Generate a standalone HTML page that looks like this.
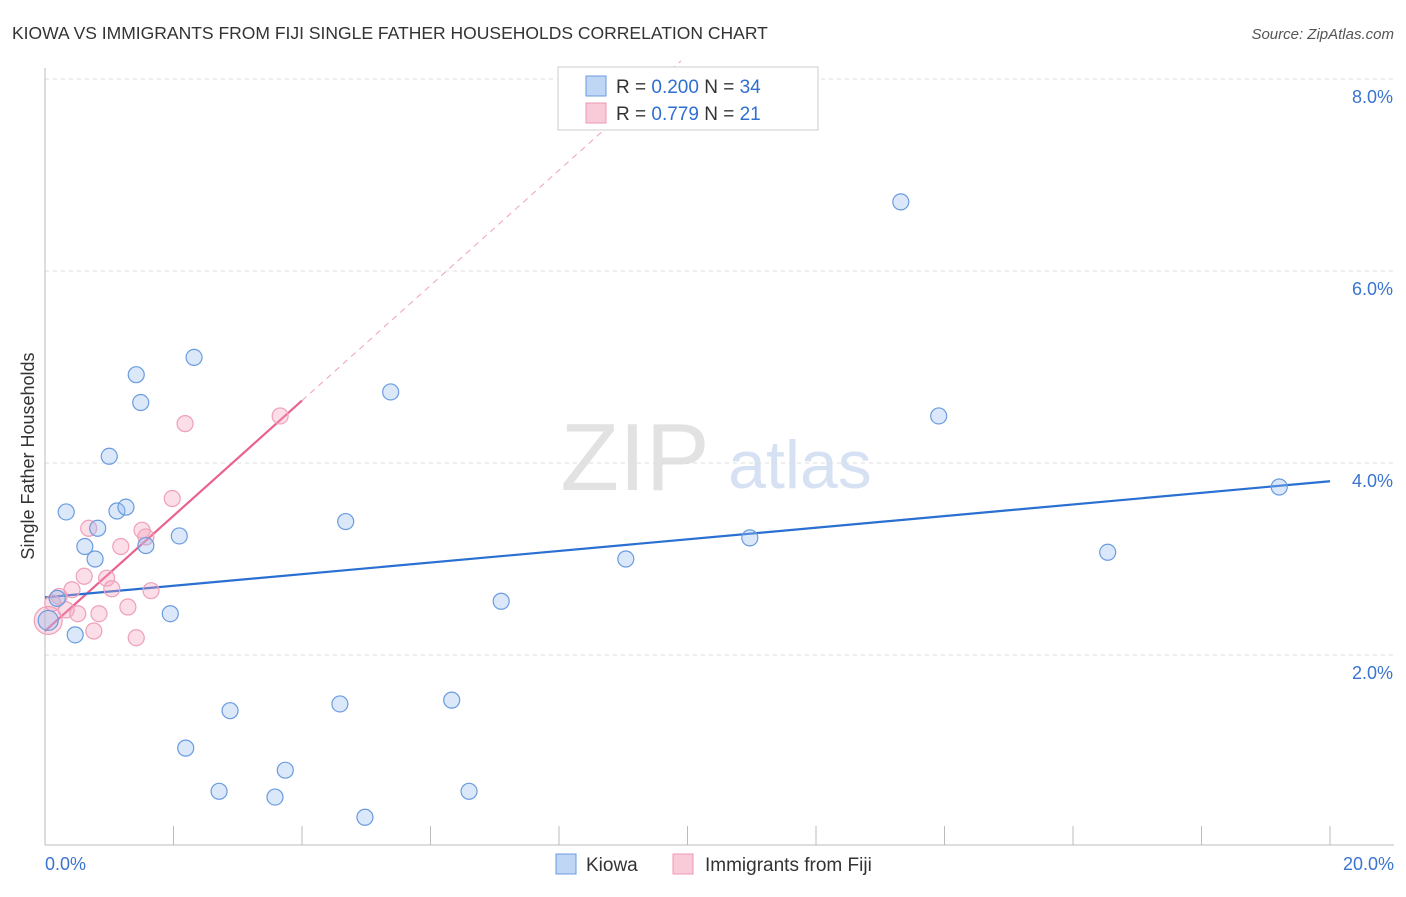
<!DOCTYPE html>
<html><head><meta charset="utf-8"><style>
body{margin:0;background:#fff;font-family:"Liberation Sans",sans-serif}
svg text{font-family:"Liberation Sans",sans-serif}
</style></head><body>
<svg id="c" width="1406" height="892" viewBox="0 0 1406 892">
<text x="12" y="39" font-size="17.5" fill="#333">KIOWA VS IMMIGRANTS FROM FIJI SINGLE FATHER HOUSEHOLDS CORRELATION CHART</text>
<text x="1394" y="39" font-size="15" fill="#555" font-style="italic" text-anchor="end">Source: ZipAtlas.com</text>
<g>
<text x="635" y="490" font-size="96" font-family="Liberation Serif" fill="#e2e2e2" text-anchor="middle">ZIP</text>
<text x="800" y="488" font-size="68" fill="#d6e2f3" text-anchor="middle">atlas</text>
</g>
<g id="grid"></g>
<g id="axes"></g>
<g id="lines"></g>
<g id="pts"></g>
<text transform="translate(34,456) rotate(-90)" font-size="18" fill="#333" text-anchor="middle">Single Father Households</text>
<g>
<rect x="558" y="67" width="260" height="63" fill="#fff" stroke="#ccc"/>
<rect x="586" y="76" width="20" height="20" fill="#c0d6f5" stroke="#6a9be0"/>
<rect x="586" y="103" width="20" height="20" fill="#f9cbd8" stroke="#ec9ab3"/>
<text x="616" y="93" font-size="19" fill="#333">R = <tspan fill="#2f6fd0">0.200</tspan>   N = <tspan fill="#2f6fd0">34</tspan></text>
<text x="616" y="120" font-size="19" fill="#333">R =  <tspan fill="#2f6fd0">0.779</tspan>   N =  <tspan fill="#2f6fd0">21</tspan></text>
</g>
<g>
<rect x="556" y="854" width="20" height="20" fill="#c0d6f5" stroke="#6a9be0"/>
<text x="586" y="871" font-size="19" fill="#333">Kiowa</text>
<rect x="673" y="854" width="20" height="20" fill="#f9cbd8" stroke="#ec9ab3"/>
<text x="705" y="871" font-size="19" fill="#333">Immigrants from Fiji</text>
</g>
</svg>
<script>
const blueX=[13.32,13.91,19.21,16.54,10.97,9.04,7.10,5.38,4.68,2.32,1.42,1.49,1.00,0.33,1.12,1.26,0.82,0.62,0.78,1.57,2.09,1.95,0.47,0.19,2.88,2.19,4.59,6.33,3.74,2.71,3.58,6.60,4.98,0.05];
const blueY=[6.72,4.49,3.75,3.07,3.22,3.00,2.56,4.74,3.39,5.10,4.92,4.63,4.07,3.49,3.50,3.54,3.32,3.13,3.00,3.14,3.24,2.43,2.21,2.59,1.42,1.03,1.49,1.53,0.80,0.58,0.52,0.58,0.31,2.36];
const pinkX=[3.66,2.18,1.98,0.68,1.51,1.57,1.18,0.61,0.96,0.42,1.04,1.65,0.22,1.29,0.33,0.51,0.84,0.12,0.76,1.42,0.05];
const pinkY=[4.49,4.41,3.63,3.32,3.30,3.23,3.13,2.82,2.80,2.68,2.69,2.67,2.61,2.50,2.47,2.43,2.43,2.54,2.25,2.18,2.36];
const yTicks=[2,4,6,8];
const yTickLabels=["2.0%","4.0%","6.0%","8.0%"];
const blueTrend=[2.60,3.81];
const pinkTrend=[2.25,4.65];
const NS="http://www.w3.org/2000/svg";
const X=v=>45+v*64.25, Y=v=>847-v*96;
function mk(p,t,a){const e=document.createElementNS(NS,t);for(const k in a)e.setAttribute(k,a[k]);p.appendChild(e);return e;}
const grid=document.getElementById('grid'),axes=document.getElementById('axes');
yTicks.forEach((t,i)=>{
 const l=mk(grid,'line',{x1:45,x2:1394,y1:Y(t),y2:Y(t),stroke:'#ddd','stroke-dasharray':'4,4'});
 
 
 const tx=mk(axes,'text',{x:1393,y:Y(t)+24,'font-size':18,fill:'#3a74d0','text-anchor':'end'});
 tx.textContent=yTickLabels[i];
 
 
});
mk(axes,'line',{x1:45,x2:45,y1:68,y2:845,stroke:'#bbb'});
mk(axes,'line',{x1:45,x2:1394,y1:845,y2:845,stroke:'#bbb'});
for(let i=1;i<=10;i++){const t=mk(axes,'line',{x1:X(i*2),x2:X(i*2),y1:826,y2:845,stroke:'#bbb'});
 
 }
const x0=mk(axes,'text',{x:45,y:870,'font-size':18,fill:'#3a74d0'});x0.textContent='0.0%';


const x1=mk(axes,'text',{x:1394,y:870,'font-size':18,fill:'#3a74d0','text-anchor':'end'});x1.textContent='20.0%';


const pts=document.getElementById('pts');
pinkX.forEach((x,i)=>{const c=mk(pts,'circle',{cx:X(x),cy:Y(pinkY[i]),r:i==pinkX.length-1?14:8,fill:'rgba(244,160,186,0.35)',stroke:'#eea0b8','stroke-width':1.2});
 
 });
blueX.forEach((x,i)=>{const c=mk(pts,'circle',{cx:X(x),cy:Y(blueY[i]),r:i==blueX.length-1?10:8,fill:'rgba(150,190,240,0.35)',stroke:'#6a9be0','stroke-width':1.2});
 
 });
const lines=document.getElementById('lines');
const slope=(pinkTrend[1]-pinkTrend[0])/4;
let d=mk(lines,'line',{x1:X(4),y1:Y(pinkTrend[1]),x2:X(9.9),y2:Y(pinkTrend[0]+slope*9.9),stroke:'#f0a0b8','stroke-dasharray':'6,5'});


d=mk(lines,'line',{x1:X(0),y1:Y(pinkTrend[0]),x2:X(4),y2:Y(pinkTrend[1]),stroke:'#ea6290','stroke-width':2.2});


d=mk(lines,'line',{x1:X(0),y1:Y(blueTrend[0]),x2:X(20),y2:Y(blueTrend[1]),stroke:'#2a6fd2','stroke-width':2.2});


</script>
</body></html>
